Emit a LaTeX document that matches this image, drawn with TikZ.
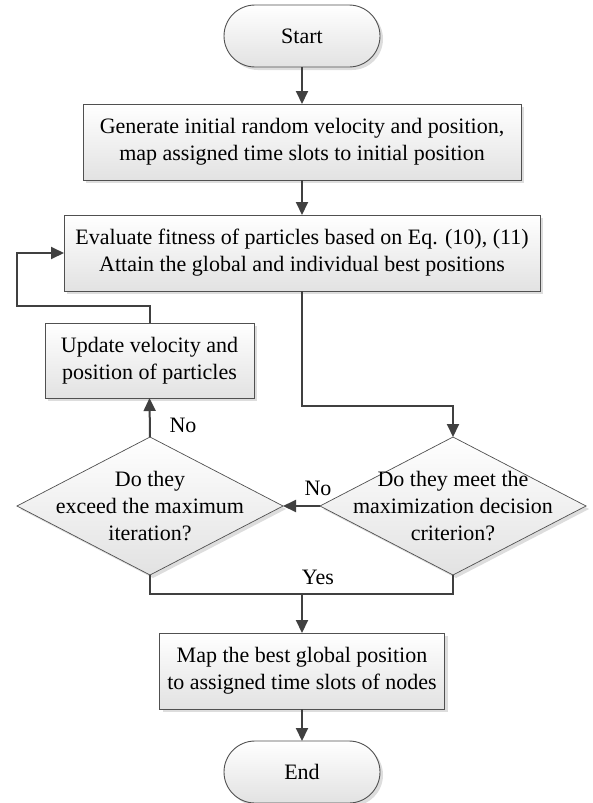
\documentclass[tikz,border=0pt]{standalone}
\usepackage{fontspec}
\setmainfont{Liberation Serif}
\usetikzlibrary{shapes.misc,shapes.geometric,arrows.meta,shadows}

\definecolor{edgegray}{HTML}{505050}
\definecolor{linegray}{HTML}{404040}
\definecolor{shadegray}{HTML}{E2E2E2}
\definecolor{shadowgray}{HTML}{DDDDDD}

\tikzset{
  base/.style={font=\fontsize{22}{27}\selectfont, align=center, inner sep=0pt, outer sep=0pt},
  boxshade/.style={top color=white, bottom color=shadegray,
    general shadow={fill=shadowgray, shadow xshift=3pt, shadow yshift=-3pt}},
  procbox/.style={base, boxshade, rectangle, draw=edgegray, line width=1pt},
  termbox/.style={base, boxshade, rounded rectangle, draw=edgegray, line width=0.9pt,
    minimum width=156pt, minimum height=62pt},
  decision/.style={base, boxshade, diamond, draw=edgegray, line width=0.7pt,
    minimum width=266pt, minimum height=138pt},
  dtext/.style={base},
  lbl/.style={base},
  conn/.style={draw=linegray, line width=2pt, -{Triangle[length=13pt,width=12pt]}},
  link/.style={draw=linegray, line width=2pt},
}

\begin{document}
\begin{tikzpicture}[x=1pt, y=-1pt]
\useasboundingbox (0,0) rectangle (593,803);

% main column
\node[termbox] (start) at (302,36) {Start};
\node[procbox, minimum width=438pt, minimum height=76pt] (init) at (302,142)
  {Generate initial random velocity and position,\\map assigned time slots to initial position};
\node[procbox, minimum width=476pt, minimum height=76pt] (eval) at (302,253)
  {Evaluate fitness of particles based on Eq. (10), (11)\\Attain the global and individual best positions};
\node[procbox, minimum width=209pt, minimum height=75pt] (upd) at (149.5,360.5)
  {Update velocity and\\position of particles};

% decisions
\node[decision] (crit) at (453,506) {};
\node[dtext] at (crit) {Do they meet the\\maximization decision\\criterion?};
\node[decision] (iter) at (150,506) {};
\node[dtext] at (iter) {Do they\\exceed the maximum\\iteration?};

\node[procbox, minimum width=285pt, minimum height=76pt] (map) at (302,671)
  {Map the best global position\\to assigned time slots of nodes};
\node[termbox] (end) at (302,772) {End};

% branch labels
\node[lbl] (noup) at (183,425) {No};
\node[lbl] (noleft) at (318,488) {No};
\node[lbl] (yes) at (318,577) {Yes};

% helper points
\coordinate (loopL) at (17,306);
\coordinate (merge) at (302,594);

% connectors
\draw[conn] (start) -- (init);
\draw[conn] (init) -- (eval);
\draw[conn] (eval.south) -- ++(0,115) -| (crit.north);
\draw[conn] (crit.west) -- (iter.east);
\draw[conn] (iter.north) -- (upd.south);
\draw[conn] (upd.north) |- (loopL) |- (eval.west);
\draw[link] (iter.south) -- ++(0,19) -| (crit.south);
\draw[conn] (merge) -- (map.north);
\draw[conn] (map) -- (end);
\end{tikzpicture}
\end{document}
